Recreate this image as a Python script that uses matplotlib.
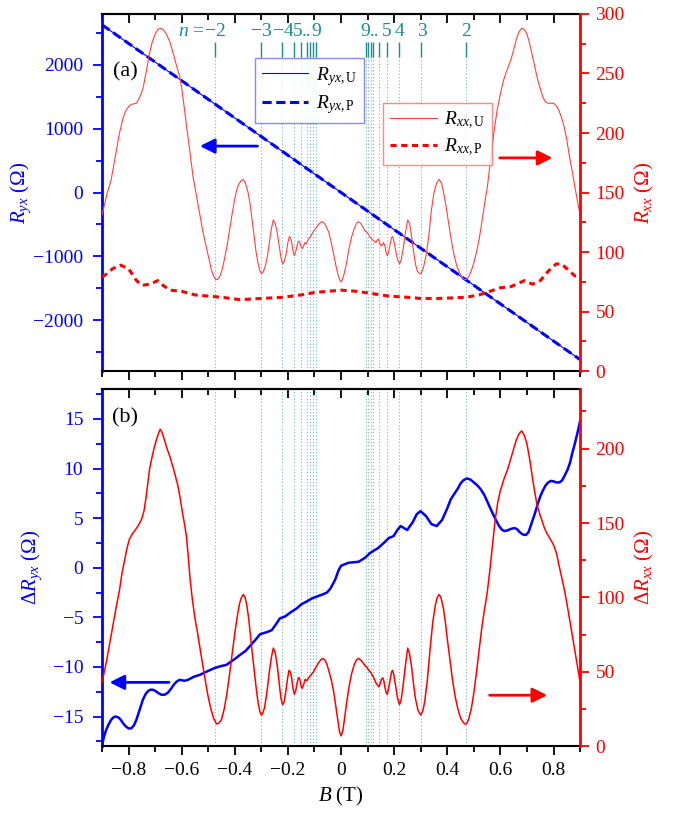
import matplotlib
matplotlib.use("Agg")
import matplotlib.pyplot as plt
from matplotlib.ticker import MultipleLocator, FuncFormatter

plt.rcParams["font.family"] = ["Liberation Serif", "DejaVu Serif"]
plt.rcParams["mathtext.fontset"] = "custom"
plt.rcParams["mathtext.rm"] = "Liberation Serif"
plt.rcParams["mathtext.it"] = "Liberation Serif:italic"
plt.rcParams["mathtext.bf"] = "Liberation Serif:bold"
plt.rcParams["axes.unicode_minus"] = True

# ---- data ----
# Landau level positions (T) and their labels
ll_neg = [-0.473, -0.300, -0.222, -0.178, -0.150, -0.130, -0.116, -0.105, -0.096]
ll_pos = [0.095, 0.103, 0.111, 0.122, 0.142, 0.172, 0.220, 0.301, 0.472]
n_label_x = [-0.473, -0.300, -0.219, -0.163, -0.130, -0.094, 0.090, 0.127, 0.170, 0.220, 0.303, 0.472]
n_label_txt = ["\u22122", "\u22123", "\u22124", "5", "..", "9", "9", "..", "5", "4", "3", "2"]

# panel (a): Hall resistance (straight lines)
B_yx = [-0.9, -0.45, 0.0, 0.45, 0.9]
Ryx_U = [2630, 1315, 0, -1310, -2620]
Ryx_P = [2630, 1315, 0, -1310, -2620]

# panel (a): Rxx unpatterned
B_xxU = [-0.900, -0.890, -0.880, -0.866, -0.850, -0.834, -0.820, -0.810, -0.800, -0.790,
         -0.780, -0.771, -0.760, -0.746, -0.733, -0.721, -0.710, -0.700, -0.690, -0.680,
         -0.670, -0.660, -0.645, -0.632, -0.620, -0.607, -0.598, -0.589, -0.580, -0.570,
         -0.557, -0.545, -0.532, -0.520, -0.507, -0.497, -0.488, -0.480, -0.473, -0.465,
         -0.455, -0.447, -0.440, -0.430, -0.420, -0.410, -0.400, -0.392, -0.385, -0.376,
         -0.368, -0.360, -0.350, -0.342, -0.335, -0.327, -0.320, -0.312, -0.305, -0.300,
         -0.294, -0.285, -0.277, -0.270, -0.262, -0.255, -0.248, -0.240, -0.232, -0.226,
         -0.220, -0.214, -0.207, -0.200, -0.195, -0.190, -0.185, -0.180, -0.176, -0.171,
         -0.166, -0.161, -0.157, -0.153, -0.150, -0.145, -0.141, -0.136, -0.131, -0.127,
         -0.122, -0.115, -0.105, -0.095, -0.085, -0.077, -0.070, -0.062, -0.055, -0.047,
         -0.040, -0.032, -0.025, -0.017, -0.010, -0.004, 0.000, 0.005, 0.012, 0.020,
         0.030, 0.040, 0.050, 0.058, 0.066, 0.074, 0.082, 0.090, 0.100, 0.108,
         0.115, 0.120, 0.126, 0.131, 0.136, 0.140, 0.145, 0.150, 0.155, 0.160,
         0.165, 0.170, 0.174, 0.179, 0.185, 0.190, 0.194, 0.199, 0.205, 0.212,
         0.220, 0.226, 0.234, 0.242, 0.251, 0.258, 0.265, 0.272, 0.280, 0.287,
         0.295, 0.302, 0.310, 0.320, 0.330, 0.340, 0.350, 0.360, 0.369, 0.378,
         0.386, 0.395, 0.405, 0.415, 0.425, 0.435, 0.445, 0.455, 0.465, 0.472,
         0.480, 0.490, 0.500, 0.510, 0.520, 0.530, 0.540, 0.551, 0.563, 0.575,
         0.588, 0.600, 0.610, 0.620, 0.630, 0.640, 0.650, 0.660, 0.670, 0.680,
         0.690, 0.700, 0.710, 0.720, 0.730, 0.740, 0.750, 0.760, 0.770, 0.780,
         0.790, 0.800, 0.810, 0.820, 0.830, 0.840, 0.850, 0.860, 0.870, 0.880,
         0.890, 0.900]
Rxx_U = [131, 140, 150, 160, 180, 200, 213, 219, 222, 224,
         224.5, 225, 229, 237, 252, 267, 277, 283, 287, 288,
         287, 284, 277, 267, 257, 247, 235, 219, 203, 186,
         163, 148, 132, 117, 104, 94, 85, 80, 77, 77,
         80, 86, 93, 104, 118, 132, 145, 153, 157, 160,
         161, 158, 150, 140, 127, 113, 100, 90, 84, 82,
         83, 88, 97, 108, 120, 127, 124, 116, 104, 95,
         90, 92, 98, 108, 113, 112, 107, 100, 97, 100,
         105, 109, 109, 106, 104, 103, 105, 108, 107, 109,
         111, 113, 117, 120, 123, 125, 125.5, 124, 121, 117,
         111, 103, 95, 86, 80, 76, 75, 77, 82, 90,
         103, 113, 120, 124, 125.5, 124, 121, 118, 116, 113,
         111, 110, 109, 108, 110, 111, 108, 105, 106, 108,
         105, 99, 97, 100, 107, 112, 113, 109, 102, 94,
         90, 93, 103, 116, 127, 124, 114, 102, 90, 84,
         82, 82, 87, 97, 113, 135, 150, 158, 161, 158,
         150, 139, 124, 110, 98, 89, 83, 79, 77, 77,
         79, 84, 91, 100, 111, 125, 140, 155, 178, 200,
         220, 233, 243, 250, 256, 262, 270, 279, 285, 288,
         287, 283, 275, 265, 255, 245, 237, 230, 226, 225,
         225, 225, 223, 219, 213, 205, 194, 180, 168, 155,
         143, 131]

# panel (a): Rxx patterned
B_xxP = [-0.90, -0.88, -0.86, -0.83, -0.80, -0.77, -0.75, -0.72, -0.69, -0.67,
         -0.645, -0.60, -0.55, -0.50, -0.45, -0.38, -0.30, -0.22, -0.15, -0.10,
         -0.05, 0.0, 0.06, 0.12, 0.18, 0.25, 0.30, 0.36, 0.42, 0.47,
         0.52, 0.56, 0.60, 0.64, 0.67, 0.69, 0.72, 0.75, 0.78, 0.81,
         0.83, 0.86, 0.88, 0.90]
Rxx_P = [79, 82, 86, 89, 86, 76, 72, 73, 76, 72,
         68, 67, 64, 63, 62, 60, 61, 62, 64, 66,
         67, 68, 67, 65, 63, 62, 61, 61, 61.5, 62,
         64, 67, 70, 71, 74, 76, 73, 76, 84, 90,
         90, 84, 80, 79]

# panel (b): difference curves
B_dyx = [-0.900, -0.892, -0.885, -0.875, -0.865, -0.855, -0.847, -0.838, -0.830, -0.820,
         -0.810, -0.800, -0.790, -0.780, -0.770, -0.758, -0.746, -0.735, -0.725, -0.717,
         -0.709, -0.700, -0.690, -0.677, -0.664, -0.652, -0.640, -0.630, -0.620, -0.608,
         -0.598, -0.590, -0.583, -0.576, -0.555, -0.532, -0.50, -0.475, -0.45, -0.432,
         -0.40, -0.381, -0.36, -0.343, -0.32, -0.305, -0.28, -0.261, -0.245, -0.23,
         -0.21, -0.19, -0.167, -0.15, -0.129, -0.11, -0.091, -0.07, -0.053, -0.04,
         -0.022, -0.01, 0.0, 0.028, 0.066, 0.09, 0.11, 0.14, 0.161, 0.18,
         0.19, 0.198, 0.212, 0.224, 0.237, 0.249, 0.27, 0.285, 0.299, 0.32,
         0.34, 0.36, 0.38, 0.40, 0.413, 0.440, 0.450, 0.460, 0.473, 0.486,
         0.500, 0.513, 0.526, 0.540, 0.550, 0.565, 0.583, 0.595, 0.605, 0.614,
         0.625, 0.638, 0.652, 0.662, 0.672, 0.684, 0.696, 0.706, 0.720, 0.730,
         0.740, 0.750, 0.760, 0.770, 0.780, 0.790, 0.800, 0.810, 0.822, 0.832,
         0.842, 0.853, 0.862, 0.870, 0.880, 0.890, 0.900]
dRyx = [-17.9, -17.0, -16.4, -15.8, -15.3, -15.05, -15.0, -15.1, -15.3, -15.7,
        -16.0, -16.2, -16.2, -15.9, -15.3, -14.3, -13.3, -12.7, -12.4, -12.3,
        -12.3, -12.4, -12.6, -12.8, -12.8, -12.6, -12.2, -11.8, -11.5, -11.3,
        -11.35, -11.4, -11.35, -11.3, -11.0, -10.8, -10.4, -10.1, -9.9, -9.8,
        -9.2, -8.8, -8.4, -7.9, -7.2, -6.7, -6.5, -6.3, -5.7, -5.1,
        -4.9, -4.5, -4.1, -3.7, -3.4, -3.1, -2.9, -2.7, -2.5, -2.1,
        -1.2, -0.3, 0.2, 0.5, 0.6, 1.0, 1.5, 2.0, 2.5, 3.0,
        3.1, 3.2, 3.8, 4.2, 4.0, 3.8, 4.6, 5.4, 5.7, 5.2,
        4.4, 4.2, 4.8, 6.0, 6.9, 8.0, 8.5, 8.8, 9.0, 8.9,
        8.6, 8.3, 7.9, 7.3, 6.7, 5.8, 4.8, 4.2, 3.85, 3.7,
        3.75, 3.9, 4.0, 3.9, 3.6, 3.35, 3.3, 3.6, 4.7, 5.5,
        6.4, 7.2, 7.8, 8.3, 8.6, 8.75, 8.7, 8.6, 8.6, 8.8,
        9.3, 9.9, 10.6, 11.5, 12.5, 13.6, 14.8]

B_dxx = [-0.900, -0.890, -0.880, -0.870, -0.860, -0.847, -0.834, -0.825, -0.815, -0.806,
         -0.797, -0.785, -0.772, -0.765, -0.758, -0.750, -0.742, -0.735, -0.728, -0.721,
         -0.712, -0.703, -0.695, -0.688, -0.681, -0.674, -0.665, -0.655, -0.645, -0.630,
         -0.614, -0.605, -0.596, -0.588, -0.582, -0.575, -0.568, -0.560, -0.550, -0.540,
         -0.532, -0.520, -0.510, -0.500, -0.490, -0.480, -0.469, -0.460, -0.450, -0.440,
         -0.430, -0.420, -0.410, -0.400, -0.390, -0.382, -0.375, -0.368, -0.361, -0.355,
         -0.347, -0.340, -0.330, -0.320, -0.312, -0.305, -0.300, -0.295, -0.288, -0.280,
         -0.270, -0.262, -0.255, -0.248, -0.240, -0.232, -0.226, -0.220, -0.214, -0.207,
         -0.201, -0.196, -0.191, -0.186, -0.181, -0.176, -0.171, -0.166, -0.161, -0.157,
         -0.153, -0.150, -0.146, -0.140, -0.135, -0.129, -0.122, -0.113, -0.104, -0.095,
         -0.085, -0.077, -0.069, -0.061, -0.053, -0.045, -0.036, -0.028, -0.020, -0.012,
         -0.006, 0.000, 0.006, 0.012, 0.020, 0.030, 0.040, 0.050, 0.058, 0.066,
         0.074, 0.083, 0.091, 0.098, 0.104, 0.110, 0.117, 0.123, 0.128, 0.133,
         0.138, 0.143, 0.147, 0.152, 0.157, 0.161, 0.166, 0.170, 0.174, 0.179,
         0.185, 0.190, 0.194, 0.199, 0.205, 0.212, 0.220, 0.226, 0.233, 0.242,
         0.251, 0.258, 0.265, 0.272, 0.280, 0.290, 0.300, 0.308, 0.315, 0.325,
         0.335, 0.345, 0.355, 0.362, 0.369, 0.376, 0.385, 0.393, 0.400, 0.410,
         0.420, 0.430, 0.440, 0.450, 0.460, 0.466, 0.472, 0.480, 0.490, 0.500,
         0.510, 0.520, 0.530, 0.540, 0.550, 0.560, 0.570, 0.580, 0.590, 0.600,
         0.614, 0.627, 0.640, 0.650, 0.660, 0.670, 0.680, 0.690, 0.700, 0.710,
         0.720, 0.728, 0.738, 0.750, 0.765, 0.775, 0.785, 0.795, 0.803, 0.812,
         0.820, 0.830, 0.841, 0.855, 0.870, 0.885, 0.900]
dRxx = [43, 51, 60, 70, 80, 93, 105, 116, 125, 133,
        139, 143, 146, 148, 150, 153, 158, 166, 176, 186,
        194, 201, 206, 210, 213, 211, 206, 200, 195, 186,
        175, 166, 156, 148, 141, 127, 112, 99, 86, 76,
        67, 54, 43, 33, 25, 19, 15, 15.5, 18, 25,
        35, 48, 62, 76, 88, 96, 100, 102, 100, 95,
        85, 72, 56, 40, 29, 23, 21, 22, 26, 35,
        50, 60, 66, 63, 54, 41, 32, 28, 30, 38,
        46, 51, 50, 46, 39, 35, 37, 42, 46, 46,
        43, 40, 39, 42, 45, 44, 46, 48, 50, 53,
        56, 58, 59, 58, 55, 50, 44, 37, 27, 17,
        10, 7, 10, 17, 28, 40, 49, 55, 58, 59,
        58, 56, 54, 53, 51, 50, 48, 46, 44, 42,
        41, 40, 42, 45, 46, 44, 39, 36, 35, 39,
        45, 50, 51, 48, 41, 33, 28, 31, 40, 54,
        66, 62, 54, 43, 32, 24, 21, 24, 30, 45,
        65, 83, 95, 100, 102, 100, 93, 83, 72, 58,
        44, 33, 25, 19, 16, 15, 15, 18, 25, 36,
        50, 65, 80, 92, 103, 118, 135, 152, 164, 172,
        180, 186, 194, 200, 206, 210, 212, 209, 203, 193,
        181, 172, 162, 155, 147, 143, 140, 137, 134, 129,
        122, 114, 105, 91, 75, 59, 43]

teal = "#1a8c8c"
teal_light = "#6fbaba"
fmt = FuncFormatter(lambda v, p: ("%g" % v).replace("-", "\u2212"))

fig = plt.figure(figsize=(6.89, 8.21), dpi=100)
ax1 = fig.add_axes([0.148, 0.548, 0.694, 0.435])
ax2 = fig.add_axes([0.148, 0.091, 0.694, 0.435])
ax1r = ax1.twinx()
ax2r = ax2.twinx()


def style_pair(ax, axr):
    ax.set_xlim(-0.9, 0.9)
    ax.xaxis.set_major_locator(MultipleLocator(0.2))
    ax.xaxis.set_minor_locator(MultipleLocator(0.1))
    ax.xaxis.set_major_formatter(fmt)
    ax.yaxis.set_major_formatter(fmt)
    ax.tick_params(axis="x", which="major", direction="out", length=6.5, width=1.3,
                   labelsize=14, pad=5)
    ax.tick_params(axis="x", which="minor", direction="out", length=4.3, width=1.3)
    ax.tick_params(axis="y", which="major", direction="out", length=6.5, width=1.3,
                   colors="blue", labelsize=14, pad=7)
    ax.tick_params(axis="y", which="minor", direction="out", length=4.3, width=1.3, colors="blue")
    axr.tick_params(axis="y", which="major", direction="out", length=6.5, width=1.3,
                    colors="red", labelsize=14, pad=4.5)
    axr.tick_params(axis="y", which="minor", direction="out", length=4.3, width=1.3, colors="red")
    for s in ax.spines.values():
        s.set_linewidth(1.5)
    ax.spines["left"].set_color("blue")
    ax.spines["left"].set_linewidth(2)
    ax.spines["right"].set_visible(False)
    for name in ["left", "top", "bottom"]:
        axr.spines[name].set_visible(False)
    axr.spines["right"].set_color("red")
    axr.spines["right"].set_linewidth(2)
    top = ax.secondary_xaxis("top")
    top.xaxis.set_major_locator(MultipleLocator(0.2))
    top.xaxis.set_minor_locator(MultipleLocator(0.1))
    top.tick_params(which="major", direction="in", length=6.5, width=1.3, labeltop=False)
    top.tick_params(which="minor", direction="in", length=4.3, width=1.3)
    top.spines["top"].set_linewidth(1.5)


style_pair(ax1, ax1r)
style_pair(ax2, ax2r)

# ---- panel (a) ----
ll_all = ll_neg + ll_pos
ax1.vlines(ll_all, 0, 0.88, colors=teal_light, linestyles=(0, (1, 2)), lw=0.8,
           transform=ax1.get_xaxis_transform(), zorder=0)
ax1.vlines(ll_all, 0.88, 0.922, colors=teal, lw=1.0, transform=ax1.get_xaxis_transform())
for x, t in zip(n_label_x, n_label_txt):
    ax1.text(x, 0.952, t, color=teal, fontsize=14, ha="center", va="center",
             transform=ax1.get_xaxis_transform())
ax1.annotate("$n$ =", xy=(n_label_x[0], 0.952), xycoords=ax1.get_xaxis_transform(),
             xytext=(-8, 0), textcoords="offset points", color=teal, fontsize=14,
             ha="right", va="center")

l1, = ax1.plot(B_yx, Ryx_U, color="blue", lw=0.8, label=r"$R_{yx,\mathrm{U}}$")
l2, = ax1.plot(B_yx, Ryx_P, color="blue", lw=2.2, ls=(0, (3, 1.5)), label=r"$R_{yx,\mathrm{P}}$")
ax1.set_ylim(-2800, 2800)
ax1.yaxis.set_major_locator(MultipleLocator(1000))
ax1.yaxis.set_minor_locator(MultipleLocator(500))
ax1.tick_params(axis="x", labelbottom=False)
ax1.set_ylabel(r"$R_{yx}$ ($\Omega$)", color="blue", fontsize=15, labelpad=0)

l3, = ax1r.plot(B_xxU, Rxx_U, color="#ff4040", lw=0.8, label=r"$R_{xx,\mathrm{U}}$")
l4, = ax1r.plot(B_xxP, Rxx_P, color="red", lw=2.2, ls=(0, (2, 1.5)), label=r"$R_{xx,\mathrm{P}}$")
ax1r.set_ylim(0, 300)
ax1r.yaxis.set_major_locator(MultipleLocator(50))
ax1r.yaxis.set_minor_locator(MultipleLocator(25))
ax1r.set_ylabel(r"$R_{xx}$ ($\Omega$)", color="red", fontsize=15, labelpad=6)

leg1 = ax1r.legend(handles=[l1, l2], loc="upper left", bbox_to_anchor=(0.320, 0.877),
                   borderaxespad=0, fontsize=14, frameon=True, fancybox=False,
                   handlelength=2.4, handletextpad=0.4, borderpad=0.35, labelspacing=0.3)
leg1.get_frame().set_edgecolor("#6a6aff")
leg1.get_frame().set_linewidth(1.0)
ax1r.add_artist(leg1)
leg2 = ax1r.legend(handles=[l3, l4], loc="upper left", bbox_to_anchor=(0.588, 0.751),
                   borderaxespad=0, fontsize=14, frameon=True, fancybox=False,
                   handlelength=2.4, handletextpad=0.4, borderpad=0.35, labelspacing=0.3)
leg2.get_frame().set_edgecolor("#ff6a6a")
leg2.get_frame().set_linewidth(1.0)

ax1.annotate("", xy=(0.199, 0.630), xytext=(0.331, 0.630), xycoords="axes fraction",
             arrowprops=dict(arrowstyle="-|>", color="blue", lw=2, mutation_scale=22))
ax1r.annotate("", xy=(0.948, 0.597), xytext=(0.826, 0.597), xycoords="axes fraction",
              arrowprops=dict(arrowstyle="-|>", color="red", lw=2, mutation_scale=22))
ax1.text(0.048, 0.838, "(a)", transform=ax1.transAxes, fontsize=16, ha="center", va="center")

# ---- panel (b) ----
ax2.vlines(ll_all, 0, 1, colors=teal_light, linestyles=(0, (1, 2)), lw=0.8,
           transform=ax2.get_xaxis_transform(), zorder=0)
ax2.plot(B_dyx, dRyx, color="blue", lw=1.8)
ax2.set_ylim(-18, 18)
ax2.yaxis.set_major_locator(MultipleLocator(5))
ax2.yaxis.set_minor_locator(MultipleLocator(2.5))
ax2.set_ylabel(r"$\mathit{\Delta R}_{yx}$ ($\Omega$)", color="blue", fontsize=15, labelpad=6)
ax2.set_xlabel(r"$B$ (T)", fontsize=15, labelpad=4)

ax2r.plot(B_dxx, dRxx, color="red", lw=1.1)
ax2r.set_ylim(0, 240)
ax2r.yaxis.set_major_locator(MultipleLocator(50))
ax2r.yaxis.set_minor_locator(MultipleLocator(25))
ax2r.set_ylabel(r"$\mathit{\Delta R}_{xx}$ ($\Omega$)", color="red", fontsize=15, labelpad=6)

ax2.annotate("", xy=(0.010, 0.179), xytext=(0.146, 0.179), xycoords="axes fraction",
             arrowprops=dict(arrowstyle="-|>", color="blue", lw=2, mutation_scale=22))
ax2r.annotate("", xy=(0.937, 0.143), xytext=(0.805, 0.143), xycoords="axes fraction",
              arrowprops=dict(arrowstyle="-|>", color="red", lw=2, mutation_scale=22))
ax2.text(0.048, 0.920, "(b)", transform=ax2.transAxes, fontsize=16, ha="center", va="center")

fig.savefig("out.png", dpi=100)
